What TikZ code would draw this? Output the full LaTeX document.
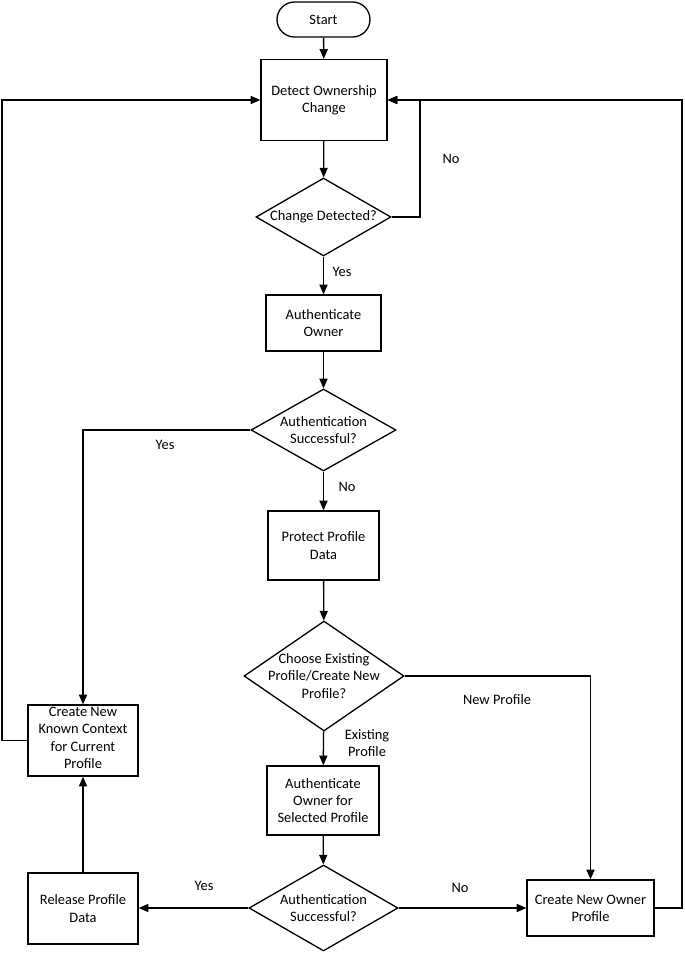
\documentclass[tikz,border=0pt]{standalone}
\usepackage{fontspec}
\setmainfont{Carlito}
\usetikzlibrary{shapes.geometric,arrows.meta}
\begin{document}
\begin{tikzpicture}[x=0.02cm,y=-0.02cm,
  every node/.style={font=\fontsize{8.2pt}{9.8pt}\selectfont},
  box/.style={draw,line width=0.75pt,inner sep=0pt,align=center},
  dec/.style={draw,diamond,line width=0.75pt,inner sep=0pt},
  term/.style={draw,line width=0.75pt,rounded corners=0.35cm,inner sep=0pt},
  lbl/.style={inner sep=0pt,align=center},
  flow/.style={line width=0.75pt,-{Triangle[length=5.5pt,width=4.6pt]}}]
\useasboundingbox (0,0) rectangle (685,954);
\node[term,minimum width=93*0.02cm,minimum height=35*0.02cm] (start) at (323.5,19.5) {Start};
\node[box,minimum width=126*0.02cm,minimum height=81*0.02cm] (detect) at (324,100) {Detect Ownership\\Change};
\node[dec,minimum width=135*0.02cm,minimum height=78*0.02cm] (chg) at (323.5,217) {};
\node[lbl] at (chg) {Change Detected?};
\node[box,minimum width=115*0.02cm,minimum height=56*0.02cm] (auth) at (323.5,323) {Authenticate\\Owner};
\node[dec,minimum width=145*0.02cm,minimum height=82*0.02cm] (succ1) at (323.5,430) {};
\node[lbl] at (succ1) {Authentication\\Successful?};
\node[box,minimum width=111*0.02cm,minimum height=69*0.02cm] (protect) at (323.5,545.5) {Protect Profile\\Data};
\node[dec,minimum width=160*0.02cm,minimum height=110*0.02cm] (choose) at (324,676) {};
\node[lbl] at (choose) {Choose Existing\\Profile/Create New\\Profile?};
\node[box,minimum width=112*0.02cm,minimum height=69*0.02cm] (authsel) at (323,800.5) {Authenticate\\Owner for\\Selected Profile};
\node[dec,minimum width=149*0.02cm,minimum height=86*0.02cm] (succ2) at (323.5,908) {};
\node[lbl] at (succ2) {Authentication\\Successful?};
\node[draw,line width=0.75pt,minimum width=110*0.02cm,minimum height=71*0.02cm] (ctx) at (83,740.5) {};
\node[lbl,anchor=north] at (83,707) {Create New\\Known Context\\for Current\\Profile};
\node[box,minimum width=110*0.02cm,minimum height=71*0.02cm] (release) at (83,908.5) {Release Profile\\Data};
\node[box,minimum width=127*0.02cm,minimum height=56*0.02cm] (owner) at (590.5,908) {Create New Owner\\Profile};
\draw[flow] (start) -- (detect);
\draw[flow] (detect) -- (chg);
\draw[flow] (chg.east) -- (420,217) -- (420,100) -- (detect.east);
\draw[flow] (chg) -- (auth);
\draw[flow] (auth) -- (succ1);
\draw[flow] (succ1.west) -- (83,430) -- (ctx.north);
\draw[flow] (succ1) -- (protect);
\draw[flow] (protect) -- (choose);
\draw[flow] (choose.east) -- (590.5,676) -- (owner.north);
\draw[flow] (choose) -- (authsel);
\draw[flow] (authsel) -- (succ2);
\draw[flow] (succ2.west) -- (release.east |- succ2.west);
\draw[flow] (succ2.east) -- (owner.west);
\draw[flow] (release) -- (ctx);
\draw[flow] (ctx.west) -- (2,740.5) -- (2,100) -- (detect.west);
\draw[flow] (owner.east) -- (682,908) -- (682,100) -- (detect.east);
\node[lbl] at (451,159) {No};
\node[lbl] at (342,272) {Yes};
\node[lbl] at (165,445) {Yes};
\node[lbl] at (347,487) {No};
\node[lbl] at (497,700) {New Profile};
\node[lbl] at (367,743) {Existing\\Profile};
\node[lbl] at (204,886) {Yes};
\node[lbl] at (460,888) {No};
\end{tikzpicture}
\end{document}
